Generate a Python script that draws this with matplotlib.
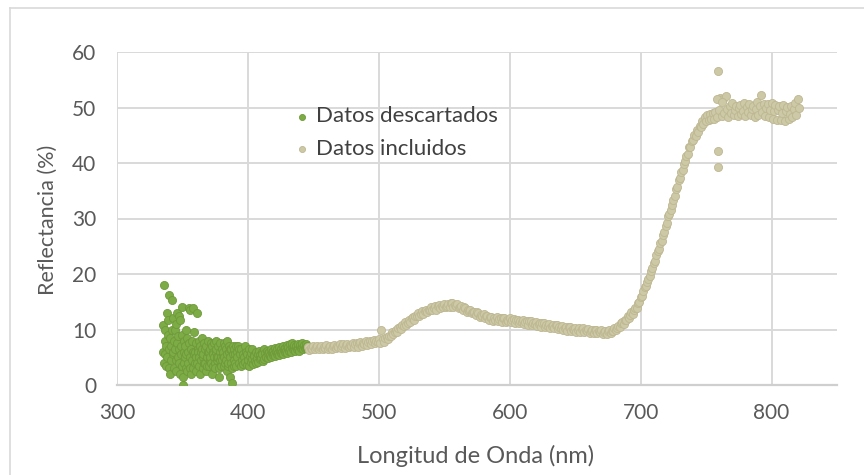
import matplotlib
matplotlib.use("Agg")
import matplotlib.pyplot as plt
from matplotlib.lines import Line2D

plt.rcParams['font.family'] = ['Lato', 'DejaVu Sans']

# ---------------- data ----------------
series_labels = ["Datos descartados", "Datos incluidos"]
x_title = "Longitud de Onda (nm)"
y_title = "Reflectancia (%)"
x_ticks = [300, 400, 500, 600, 700, 800]
y_ticks = [0, 10, 20, 30, 40, 50, 60]

# discarded data (one line per wavelength step; both lists line up)
green_nm = [335.0, 335.4, 335.7,
            336.0, 336.4, 336.7,
            337.0, 337.4, 337.7,
            338.0, 338.4, 338.7,
            339.0, 339.4, 339.7,
            340.0, 340.4, 340.7,
            341.0, 341.4, 341.7,
            342.0, 342.4, 342.7,
            343.0, 343.4, 343.7,
            344.0, 344.4, 344.7,
            345.0, 345.4, 345.7,
            346.0, 346.4, 346.7,
            347.0, 347.4, 347.7,
            348.0, 348.4, 348.7,
            349.0, 349.4, 349.7,
            350.0, 350.2, 350.5, 350.8,
            351.0, 351.4, 351.7,
            352.0, 352.4, 352.7,
            353.0, 353.4, 353.7,
            354.0, 354.4, 354.7,
            355.0, 355.4, 355.7,
            356.0, 356.4, 356.7,
            357.0, 357.4, 357.7,
            358.0, 358.4, 358.7,
            359.0, 359.4, 359.7,
            360.0, 360.4, 360.7,
            361.0, 361.4, 361.7,
            362.0, 362.4, 362.7,
            363.0, 363.4, 363.7,
            364.0, 364.4, 364.7,
            365.0, 365.4, 365.7,
            366.0, 366.4, 366.7,
            367.0, 367.4, 367.7,
            368.0, 368.4, 368.7,
            369.0, 369.4, 369.7,
            370.0, 370.4, 370.7,
            371.0, 371.4, 371.7,
            372.0, 372.4, 372.7,
            373.0, 373.4, 373.7,
            374.0, 374.4, 374.7,
            375.0, 375.4, 375.7,
            376.0, 376.4, 376.7,
            377.0, 377.4, 377.7,
            378.0, 378.4, 378.7,
            379.0, 379.4, 379.7,
            380.0, 380.4, 380.7,
            381.0, 381.4, 381.7,
            382.0, 382.4, 382.7,
            383.0, 383.4, 383.7,
            384.0, 384.4, 384.7,
            385.0, 385.4, 385.7,
            386.0, 386.4, 386.7,
            387.0, 387.4, 387.7,
            388.0, 388.4, 388.7,
            389.0, 389.4, 389.7,
            390.0, 390.4, 390.7,
            391.0, 391.5, 392.0, 392.5, 393.0, 393.5, 394.0, 394.5,
            395.0, 395.5, 396.0, 396.5, 397.0, 397.5, 398.0, 398.5,
            399.0, 399.5, 400.0, 400.5, 401.0, 401.5, 402.0, 402.5,
            403.0, 403.5, 404.0, 404.5, 405.0, 405.5, 406.0, 406.5,
            407.0, 407.5, 408.0, 408.5, 409.0, 409.5, 410.0, 410.5,
            411.0, 411.5, 412.0, 412.5, 413.0, 413.5, 414.0, 414.5,
            415.0, 415.5, 416.0, 416.5, 417.0, 417.5, 418.0, 418.5,
            419.0, 419.5, 420.0, 420.5, 421.0, 421.5, 422.0, 422.5,
            423.0, 423.5, 424.0, 424.5, 425.0, 425.5, 426.0, 426.5,
            427.0, 427.5, 428.0, 428.5, 429.0, 429.5, 430.0, 430.5,
            431.0, 431.5, 432.0, 432.5, 433.0, 433.5, 434.0, 434.5,
            435.0, 435.5, 436.0, 436.5, 437.0, 437.5, 438.0, 438.5,
            439.0, 439.5, 440.0, 440.5, 441.0, 441.5, 442.0, 442.5,
            443.0, 443.5, 444.0, 444.5, 445.0, 445.5]
green_refl = [10.8, 6, 4,
              18, 8, 5.5,
              10, 3.5, 7,
              13, 5, 9,
              11.7, 6.5, 3,
              16.2, 2, 8.5,
              7, 4.5, 10,
              15.3, 5.5, 6,
              12, 3, 8,
              9.9, 6.5, 4.5,
              11, 2.5, 7.5,
              13, 5, 8.8,
              12.5, 4, 6.5,
              11.7, 2, 7,
              5.5, 9, 3.5,
              14, 0, 1.4, 6,
              4, 8, 5,
              7, 3, 10,
              5.5, 8.5, 2.5,
              6, 4, 7.5,
              13.8, 5, 3,
              13.5, 6.5, 2,
              4.5, 8, 6,
              13.8, 3, 5.5,
              9.5, 6, 4,
              5, 7.5, 2.5,
              13, 4, 6.5,
              6, 3.5, 8,
              5, 7, 2,
              4.5, 6, 8.5,
              6.5, 3, 5,
              5.5, 7.5, 4,
              4, 6.5, 2.5,
              7, 5, 3.5,
              5, 8, 6,
              3.5, 6, 4.5,
              6.5, 5, 7.5,
              4, 7, 2,
              6, 5.5, 3.5,
              5, 7.5, 4,
              3, 6, 8,
              6.5, 4.5, 5,
              5, 7, 3,
              1.4, 6, 4.5,
              7.5, 5, 3.5,
              4.5, 6.5, 5.5,
              6, 3.5, 7.5,
              5, 7, 4,
              6.5, 4.5, 2.5,
              5.5, 8, 3.5,
              4, 6, 7,
              1.4, 5, 6.5,
              6.5, 4, 3,
              0.3, 5.5, 7,
              4.5, 6.5, 3.5,
              5.5, 4, 7,
              3.5, 6, 5, 7, 4, 6.5, 5.5, 3.5,
              6.5, 4.5, 3.8, 5.5, 5, 7, 4.2, 6,
              5.5, 3.6, 4.5, 6.5, 3.5, 5.2, 5.8, 4.2,
              4.6, 6.4, 3.8, 5.4, 5.2, 4.4, 6, 4,
              4.8, 5.6, 4.2, 6.2, 5.4, 4.6, 4.8, 6,
              5.6, 4.4, 4.6, 6.4, 5.8, 5, 5, 6.2,
              4.8, 5.8, 6, 5.2, 5.4, 6.4, 5, 6,
              6.2, 5.4, 5.6, 6.6, 5.2, 6.2, 6.4, 5.6,
              5.8, 6.8, 5.4, 6.2, 6.4, 5.8, 6, 7,
              5.6, 6.4, 6.6, 6, 6.2, 7.2, 5.8, 6.6,
              6.8, 6.2, 6.4, 7.4, 6, 7, 7.6, 6.4,
              6.6, 7.2, 6.2, 7, 7, 6.4, 6.6, 7.4,
              6.2, 7, 7.2, 6.6, 6.8, 7.6, 6.4, 7,
              7.2, 6.6, 6.8, 7.4, 6.6, 7]

# included data
beige_nm = [446, 447, 448, 449, 450, 451, 452, 453, 454, 455,
            456, 457, 458, 459, 460, 461, 462, 463, 464, 465,
            466, 467, 468, 469, 470, 471, 472, 473, 474, 475,
            476, 477, 478, 479, 480, 481, 482, 483, 484, 485,
            486, 487, 488, 489, 490, 491, 492, 493, 494, 495,
            496, 497, 498, 499, 500, 501, 502, 503, 504, 505,
            506, 507, 508, 509, 510, 511, 512, 513, 514, 515,
            516, 517, 518, 519, 520, 521, 522, 523, 524, 525,
            526, 527, 528, 529, 530, 531, 532, 533, 534, 535,
            536, 537, 538, 539, 540, 541, 542, 543, 544, 545,
            546, 547, 548, 549, 550, 551, 552, 553, 554, 555,
            556, 557, 558, 559, 560, 561, 562, 563, 564, 565,
            566, 567, 568, 569, 570, 571, 572, 573, 574, 575,
            576, 577, 578, 579, 580, 581, 582, 583, 584, 585,
            586, 587, 588, 589, 590, 591, 592, 593, 594, 595,
            596, 597, 598, 599, 600, 601, 602, 603, 604, 605,
            606, 607, 608, 609, 610, 611, 612, 613, 614, 615,
            616, 617, 618, 619, 620, 621, 622, 623, 624, 625,
            626, 627, 628, 629, 630, 631, 632, 633, 634, 635,
            636, 637, 638, 639, 640, 641, 642, 643, 644, 645,
            646, 647, 648, 649, 650, 651, 652, 653, 654, 655,
            656, 657, 658, 659, 660, 661, 662, 663, 664, 665,
            666, 667, 668, 669, 670, 671, 672, 673, 674, 675,
            676, 677, 678, 679, 680, 681, 682, 683, 684, 685,
            686, 687, 688, 689, 690, 691, 692, 693, 694, 695,
            696, 697, 698, 699, 700, 701, 702, 703, 704, 705,
            706, 707, 708, 709, 710, 711, 712, 713, 714, 715,
            716, 717, 718, 719, 720, 721, 722, 723, 724, 725,
            726, 727, 728, 729, 730, 731, 732, 733, 734, 735,
            736, 737, 738, 739, 740, 741, 742, 743, 744, 745,
            746, 747, 748, 749, 750, 751, 752, 753, 754, 755,
            756, 757, 758, 759, 760, 761, 762, 763, 764, 765,
            766, 767, 768, 769, 770, 771, 772, 773, 774, 775,
            776, 777, 778, 779, 780, 781, 782, 783, 784, 785,
            786, 787, 788, 789, 790, 791, 792, 793, 794, 795,
            796, 797, 798, 799, 800, 801, 802, 803, 804, 805,
            806, 807, 808, 809, 810, 811, 812, 813, 814, 815,
            816, 817, 818, 819, 820, 821]
beige_refl = [6.9, 6.3, 6.7, 6.5, 7.0, 6.4, 6.8, 7.0, 6.4, 6.9,
              7.1, 6.4, 6.9, 6.6, 7.2, 6.5, 6.9, 7.1, 6.5, 7.0,
              7.2, 6.6, 7.0, 6.8, 7.3, 6.7, 7.0, 7.3, 6.6, 7.2,
              7.4, 6.8, 7.2, 7.0, 7.6, 6.9, 7.3, 7.6, 6.9, 7.5,
              7.8, 7.1, 7.5, 7.4, 7.9, 7.2, 7.7, 8.0, 7.4, 7.9,
              8.1, 7.5, 7.9, 7.7, 8.3, 7.6, 10.0, 8.3, 7.7, 8.4,
              8.6, 8.2, 8.9, 8.8, 9.5, 9.1, 9.5, 10.0, 9.5, 10.2,
              10.5, 10.1, 10.8, 10.7, 11.3, 10.9, 11.2, 11.8, 11.3, 12.0,
              12.3, 11.8, 12.5, 12.4, 12.9, 12.5, 12.8, 13.3, 12.8, 13.4,
              13.6, 13.1, 13.6, 13.5, 14.0, 13.5, 13.8, 14.2, 13.6, 14.3,
              14.4, 13.8, 14.2, 14.0, 14.6, 14.0, 14.3, 14.6, 14.0, 14.7,
              14.8, 14.1, 14.5, 14.3, 14.6, 13.9, 14.1, 14.2, 13.6, 14.1,
              13.9, 13.2, 13.5, 13.3, 13.6, 12.9, 13.1, 13.2, 12.6, 13.1,
              12.9, 12.3, 12.6, 12.4, 12.8, 12.1, 12.4, 12.5, 11.8, 12.3,
              12.3, 11.6, 12.0, 11.8, 12.2, 11.5, 11.9, 12.1, 11.4, 12.0,
              12.1, 11.4, 11.8, 11.6, 12.0, 11.3, 11.7, 11.9, 11.2, 11.8,
              11.8, 11.1, 11.5, 11.3, 11.7, 11.0, 11.4, 11.6, 10.9, 11.5,
              11.5, 10.8, 11.2, 11.0, 11.4, 10.7, 11.0, 11.2, 10.5, 11.1,
              11.1, 10.4, 10.8, 10.6, 11.0, 10.3, 10.7, 10.9, 10.2, 10.8,
              10.8, 10.1, 10.5, 10.3, 10.7, 10.0, 10.3, 10.5, 9.8, 10.4,
              10.4, 9.7, 10.1, 9.9, 10.3, 9.6, 10.0, 10.2, 9.5, 10.1,
              10.2, 9.5, 9.9, 9.7, 10.1, 9.4, 9.8, 10.0, 9.3, 9.9,
              10.0, 9.3, 9.7, 9.5, 9.9, 9.2, 9.6, 9.8, 9.2, 9.8,
              9.9, 9.4, 9.8, 9.8, 10.3, 9.9, 10.3, 10.7, 10.4, 11.1,
              11.3, 11.0, 11.7, 11.8, 12.4, 12.1, 12.6, 13.1, 12.8, 13.5,
              13.8, 13.9, 14.8, 15.0, 15.8, 16.1, 16.9, 17.6, 17.8, 18.6,
              19.1, 19.6, 20.6, 21.0, 22.0, 22.4, 23.5, 24.2, 24.5, 25.6,
              26.0, 27.1, 27.5, 28.7, 29.2, 30.4, 30.8, 31.6, 32.4, 33.4,
              34.0, 35.3, 35.6, 36.9, 37.3, 38.4, 38.8, 39.9, 40.3, 41.2,
              41.6, 42.8, 42.9, 44.0, 44.1, 45.0, 44.9, 46.0, 45.6, 46.7,
              46.5, 47.5, 47.0, 48.2, 47.5, 48.6, 47.7, 48.9, 48.0, 49.0,
              48.0, 49.2, 48.3, 56.6, 49.5, 51.8, 48.4, 51.6, 49.0, 52.0,
              49.8, 48.2, 50.3, 49.0, 50.8, 48.6, 49.6, 50.2, 48.4, 49.9,
              50.5, 48.8, 49.4, 50.9, 48.5, 50.1, 49.2, 50.6, 48.7, 49.8,
              50.3, 48.3, 49.7, 51.0, 48.6, 50.2, 52.2, 49.1, 50.7, 48.5,
              49.9, 50.6, 48.2, 49.5, 50.8, 48.0, 49.3, 50.4, 47.7, 49.6,
              50.2, 47.8, 49.0, 50.5, 47.6, 49.4, 50.1, 47.9, 48.8, 50.3,
              48.2, 49.7, 50.9, 48.6, 51.5, 50.0]
beige_extra_nm = [759, 759, 758, 762]
beige_extra_refl = [42.2, 39.2, 51.5, 51.0]

# ---------------- figure ----------------
W, H = 864, 475
fig = plt.figure(figsize=(W / 100, H / 100), dpi=100)
fig.patch.set_facecolor('white')

# outer chart border (only top and left visible in the reference)
fig.add_artist(Line2D([10 / W, 1], [1 - 8 / H, 1 - 8 / H], transform=fig.transFigure,
                      color='#D9D9D9', lw=1.2))
fig.add_artist(Line2D([10 / W, 10 / W], [0, 1 - 8 / H], transform=fig.transFigure,
                      color='#D9D9D9', lw=1.2))

left, right, top, bottom = 117, 837, 52, 385
ax = fig.add_axes([left / W, (H - bottom) / H, (right - left) / W, (bottom - top) / H])

bx = beige_nm + beige_extra_nm
by = beige_refl + beige_extra_refl

ax.scatter(green_nm, green_refl, s=34, c='#7DAB45', edgecolors='#6E9A3A', linewidths=0.6,
           label=series_labels[0], zorder=3)
ax.scatter(bx, by, s=34, c='#CDC8A5', edgecolors='#BDB792', linewidths=0.6,
           label=series_labels[1], zorder=4)

ax.set_xlim(300, 850)
ax.set_ylim(0, 60)
ax.set_xticks(x_ticks)
ax.set_yticks(y_ticks)
ax.grid(True, color='#D9D9D9', lw=1.4)
ax.set_axisbelow(True)
for s in ['top', 'right', 'left']:
    ax.spines[s].set_visible(False)
ax.spines['bottom'].set_color('#CFCFCF')
ax.spines['bottom'].set_linewidth(1.6)
ax.tick_params(axis='both', length=0, labelsize=15, labelcolor='#595959')
ax.tick_params(axis='y', pad=15)
ax.tick_params(axis='x', pad=13)

ax.set_xlabel(x_title, fontsize=17, color='#595959', va='center')
ax.xaxis.set_label_coords((476 - left) / (right - left), (bottom - 456) / (bottom - top))
ax.set_ylabel(y_title, fontsize=15.5, color='#595959', va='center')
ax.yaxis.set_label_coords((48 - left) / (right - left), (bottom - 220) / (bottom - top))

leg = ax.legend(loc='center left', bbox_to_anchor=(294 / W, 1 - 132.5 / H),
                bbox_transform=fig.transFigure, frameon=False, fontsize=16,
                handlelength=0.7, handletextpad=0.3, labelspacing=0.55,
                borderpad=0, borderaxespad=0, markerscale=0.75)
for t in leg.get_texts():
    t.set_color('#404040')

fig.savefig('out.png', dpi=100, facecolor='white')
